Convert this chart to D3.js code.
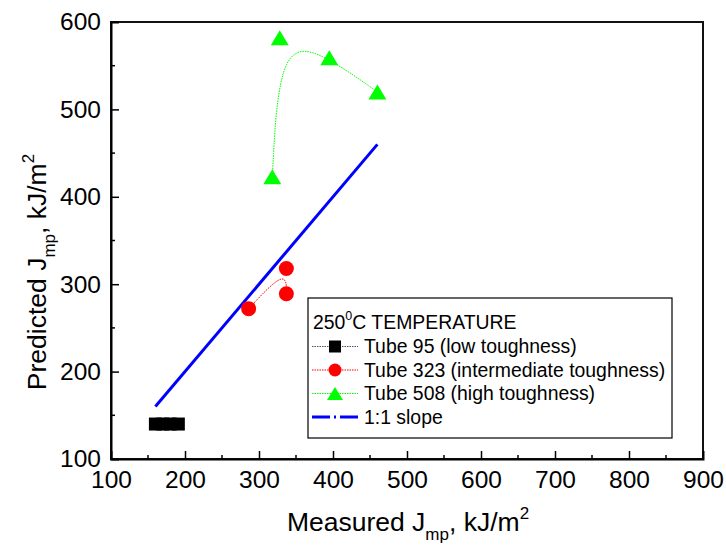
<!DOCTYPE html>
<html>
<head>
<meta charset="utf-8">
<script src="https://cdn.jsdelivr.net/npm/d3@7"></script>
<style>
  html, body { margin: 0; padding: 0; background: #fff; }
  svg { display: block; font-family: Arial, "Liberation Sans", sans-serif; }
</style>
</head>
<body>
<svg id="chart" width="726" height="551"></svg>
<script>
// ---- data ----
const xTicks = [100, 200, 300, 400, 500, 600, 700, 800, 900];
const yTicks = [100, 200, 300, 400, 500, 600];

const tube95X = [160, 170, 180, 191];
const tube95Y = [140, 140, 140, 140];

const tube323X = [286, 337, 337];
const tube323Y = [272, 318, 289];

const tube508X = [318, 328, 395, 460];
const tube508Y = [423, 582, 559, 520];

const slopeX = [160, 460];
const slopeY = [160, 460];

const legendTitle = "250";
const legendLabels = [
  "Tube 95 (low toughness)",
  "Tube 323 (intermediate toughness)",
  "Tube 508 (high toughness)",
  "1:1 slope"
];

// ---- layout ----
const svg = d3.select("#chart");
const L = 111, R = 703, T = 22, B = 459;
const x = d3.scaleLinear().domain([100, 900]).range([L, R]);
const y = d3.scaleLinear().domain([100, 600]).range([B, T]);

const zip = (xs, ys) => xs.map((v, i) => [v, ys[i]]);

// frame
svg.append("rect").attr("x", L).attr("y", T).attr("width", R - L).attr("height", B - T)
  .attr("fill", "none").attr("stroke", "#111").attr("stroke-width", 2);

// bottom axis (ticks inward)
const minorX = d3.range(150, 900, 100);
const gx = svg.append("g").attr("transform", `translate(0,${B})`);
gx.call(d3.axisBottom(x).tickValues(xTicks).tickSize(-8).tickPadding(12).tickFormat(d3.format("d")));
gx.selectAll(".tick").filter(d => d === 100 || d === 900).select("line").remove();
gx.select(".domain").attr("stroke-width", 2);
gx.selectAll(".tick line").attr("stroke-width", 1.5);
gx.selectAll("text").attr("font-size", 24.5).attr("fill", "#000")
  .attr("font-family", "Arial, 'Liberation Sans', sans-serif");
gx.selectAll(".minor").data(minorX).enter().append("line")
  .attr("x1", d => x(d)).attr("x2", d => x(d)).attr("y1", 0).attr("y2", -4)
  .attr("stroke", "#000").attr("stroke-width", 1.5);

// left axis (ticks inward)
const minorY = d3.range(150, 600, 100);
const gy = svg.append("g").attr("transform", `translate(${L},0)`);
gy.call(d3.axisLeft(y).tickValues(yTicks).tickSize(-8).tickPadding(10).tickFormat(d3.format("d")));
gy.selectAll(".tick").filter(d => d === 100 || d === 600).select("line").remove();
gy.select(".domain").attr("stroke-width", 2);
gy.selectAll(".tick line").attr("stroke-width", 1.5);
gy.selectAll("text").attr("font-size", 24.5).attr("fill", "#000")
  .attr("font-family", "Arial, 'Liberation Sans', sans-serif");
gy.selectAll(".minor").data(minorY).enter().append("line")
  .attr("x1", 0).attr("x2", 4).attr("y1", d => y(d)).attr("y2", d => y(d))
  .attr("stroke", "#000").attr("stroke-width", 1.5);

// axis titles
const xt = svg.append("text").attr("x", 408).attr("y", 531).attr("text-anchor", "middle")
  .attr("font-size", 26.5).attr("fill", "#000");
xt.append("tspan").text("Measured J");
xt.append("tspan").attr("font-size", 17).attr("dy", 9).text("mp");
xt.append("tspan").attr("dy", -9).text(", kJ/m");
xt.append("tspan").attr("font-size", 17).attr("dy", -12).text("2");

const yt = svg.append("text").attr("transform", "translate(46,272) rotate(-90)")
  .attr("text-anchor", "middle").attr("font-size", 26.5).attr("fill", "#000");
yt.append("tspan").text("Predicted J");
yt.append("tspan").attr("font-size", 17).attr("dy", 9).text("mp");
yt.append("tspan").attr("dy", -9).text(", kJ/m");
yt.append("tspan").attr("font-size", 17).attr("dy", -12).text("2");

// ---- series ----
const straight = d3.line().x(d => x(d[0])).y(d => y(d[1]));
const spline = d3.line().x(d => x(d[0])).y(d => y(d[1])).curve(d3.curveBasis);

// 1:1 slope
svg.append("path").attr("d", straight(zip(slopeX, slopeY)))
  .attr("fill", "none").attr("stroke", "#0000ff").attr("stroke-width", 3);

// Tube 95
svg.append("path").attr("d", straight(zip(tube95X, tube95Y)))
  .attr("fill", "none").attr("stroke", "#555").attr("stroke-width", 1).attr("stroke-dasharray", "1,1");
svg.selectAll(".sq").data(zip(tube95X, tube95Y)).enter().append("rect")
  .attr("x", d => x(d[0]) - 6.5).attr("y", d => y(d[1]) - 6.5)
  .attr("width", 13).attr("height", 13).attr("fill", "#000");

// Tube 323
svg.append("path").attr("d", spline(zip(tube323X, tube323Y)))
  .attr("fill", "none").attr("stroke", "#ff0000").attr("stroke-width", 1).attr("stroke-dasharray", "1.5,1");
svg.selectAll(".ci").data(zip(tube323X, tube323Y)).enter().append("circle")
  .attr("cx", d => x(d[0])).attr("cy", d => y(d[1])).attr("r", 7.5).attr("fill", "#ff0000");

// Tube 508
svg.append("path").attr("d", spline(zip(tube508X, tube508Y)))
  .attr("fill", "none").attr("stroke", "#00ff00").attr("stroke-width", 1).attr("stroke-dasharray", "1.5,1");
const tri = (cx, cy, w, h) => `M${cx},${cy - h / 2}L${cx + w / 2},${cy + h / 2}L${cx - w / 2},${cy + h / 2}Z`;
svg.selectAll(".tr").data(zip(tube508X, tube508Y)).enter().append("path")
  .attr("d", d => tri(x(d[0]), y(d[1]), 18, 15)).attr("fill", "#00ff00");

// ---- legend ----
const lg = svg.append("g");
lg.append("rect").attr("x", 308).attr("y", 298).attr("width", 364).attr("height", 140)
  .attr("fill", "#fff").attr("stroke", "#000").attr("stroke-width", 1.2);
const lt = lg.append("text").attr("x", 313).attr("y", 329).attr("font-size", 19.4).attr("fill", "#000");
lt.append("tspan").text(legendTitle);
lt.append("tspan").attr("font-size", 12.5).attr("dy", -9).text("0");
lt.append("tspan").attr("dy", 9).text("C TEMPERATURE");

const rowY = [346.5, 370, 393.5, 417];
const lineColors = ["#555", "#ff0000", "#00ff00", "#0000ff"];
legendLabels.forEach((lab, i) => {
  const cy = rowY[i];
  if (i < 3) {
    lg.append("line").attr("x1", 312).attr("x2", 358).attr("y1", cy).attr("y2", cy)
      .attr("stroke", lineColors[i]).attr("stroke-width", 1).attr("stroke-dasharray", "1.5,1");
  } else {
    lg.append("line").attr("x1", 312).attr("x2", 358).attr("y1", cy).attr("y2", cy)
      .attr("stroke", lineColors[i]).attr("stroke-width", 3).attr("stroke-dasharray", "18,4,2,4,18");
  }
  if (i === 0) lg.append("rect").attr("x", 329).attr("y", cy - 6).attr("width", 12).attr("height", 12).attr("fill", "#000");
  if (i === 1) lg.append("circle").attr("cx", 335).attr("cy", cy).attr("r", 6.5).attr("fill", "#ff0000");
  if (i === 2) lg.append("path").attr("d", tri(335, cy, 16, 13)).attr("fill", "#00ff00");
  lg.append("text").attr("x", 364).attr("y", cy + 6.5).attr("font-size", 19.4).attr("fill", "#000").text(lab);
});
</script>
</body>
</html>
